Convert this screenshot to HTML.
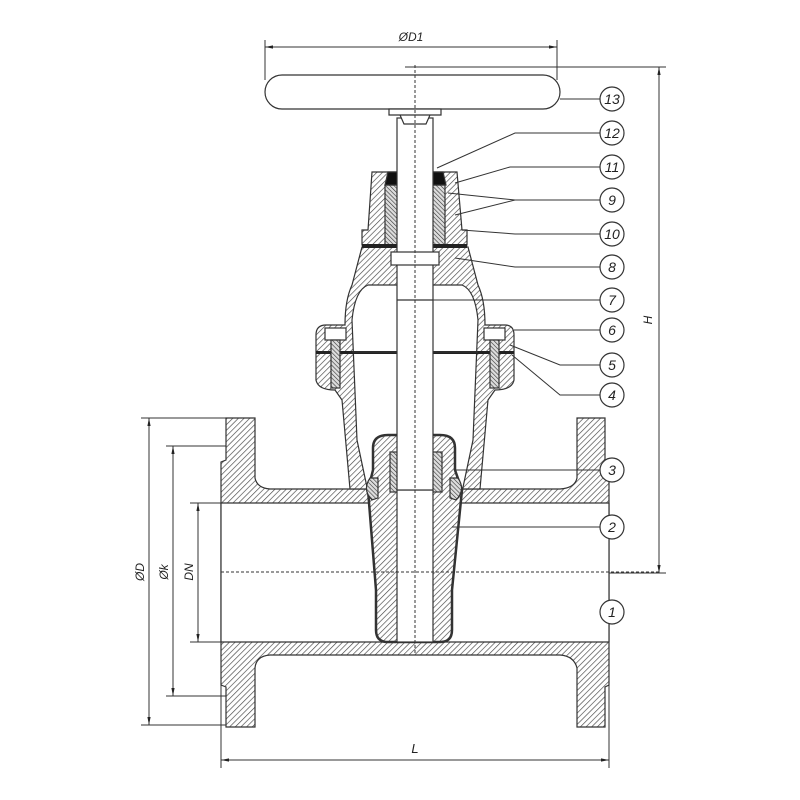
<!DOCTYPE html>
<html><head><meta charset="utf-8"><style>
html,body{margin:0;padding:0;background:#fff}
svg{display:block}
text{font-family:"Liberation Sans",sans-serif;font-style:italic;fill:#222}
</style></head><body>
<svg width="800" height="800" viewBox="0 0 800 800" xmlns="http://www.w3.org/2000/svg">
<defs>
<pattern id="h" width="4" height="4" patternUnits="userSpaceOnUse" patternTransform="rotate(45)">
<rect width="4" height="4" fill="#fff"/><line x1="0" y1="0" x2="0" y2="4" stroke="#444" stroke-width="1.3"/>
</pattern>
<pattern id="h2" width="3" height="3" patternUnits="userSpaceOnUse" patternTransform="rotate(-45)">
<rect width="3" height="3" fill="#ddd"/><line x1="0" y1="0" x2="0" y2="3" stroke="#333" stroke-width="1.2"/>
</pattern>
<marker id="a" viewBox="0 0 10 10" refX="10" refY="5" markerWidth="8" markerHeight="8" orient="auto-start-reverse"><path d="M0,3L10,5L0,7z" fill="#222"/></marker>
</defs>
<g stroke="#333" stroke-width="1.2">
<path fill="url(#h)" d="M226,418H255V478Q257,488 270,489H560Q575,488 577,478V418H605V460L609,462V685L605,687V727H577V668Q574,656 560,655H270Q256,656 255,668V727H226V687L221,685V462L226,460Z"/>
<rect x="221" y="503" width="388" height="139" fill="#fff" stroke="none"/>
<line x1="221" y1="503" x2="609" y2="503"/><line x1="221" y1="642" x2="609" y2="642"/>
<line x1="221" y1="503" x2="221" y2="642"/><line x1="609" y1="503" x2="609" y2="642"/>
<path fill="url(#h)" d="M362,247H468L478,285Q485,300 485,325H505Q514,325 514,335V380Q512,390 495,390L488,400L480,489H350L342,400L335,390Q318,390 316,380V335Q316,325 326,325H345Q345,300 352,285Z"/>
<path fill="#fff" d="M368,285H462Q475,290 478,320L473,440L462,492H368L357,440L352,320Q355,290 368,285Z"/>
<rect x="316" y="351" width="198" height="3" fill="#222" stroke="none"/>
<line x1="352" y1="352" x2="478" y2="352"/>
<g fill="#fff"><rect x="325" y="328" width="21" height="12"/><rect x="331" y="340" width="9" height="48" fill="url(#h2)"/>
<rect x="484" y="328" width="21" height="12"/><rect x="490" y="340" width="9" height="48" fill="url(#h2)"/></g>
<path fill="url(#h)" d="M372,172H457L462,230H467V245H362V230H368Z"/>
<rect x="385" y="185" width="60" height="60" fill="url(#h2)"/>
<path d="M388,172H398V185H385Z M433,172H443L446,185H433Z" fill="#111"/>
<rect x="362" y="244" width="105" height="4" fill="#222" stroke="none"/>
<path fill="url(#h)" stroke-width="2.5" d="M373,448Q373,435 388,435H440Q455,435 455,448V470L462,490L452,590V630Q452,642 440,642H388Q376,642 376,630V590L368,490L373,470Z"/>
<path d="M370,478Q362,490 372,500L378,498V478Z M458,478Q466,490 456,500L450,498V478Z" fill="url(#h2)"/>
<rect x="390" y="452" width="52" height="40" fill="url(#h2)"/>
<rect x="397" y="490" width="36" height="152" fill="#fff"/>
<rect x="397" y="118" width="36" height="372" fill="#fff"/>
<rect x="391" y="252" width="48" height="13" fill="#fff"/>
<line x1="397" y1="300" x2="433" y2="300"/>
<rect x="265" y="75" width="295" height="34" rx="17" fill="#fff"/>
<path d="M389,109H441V115H389Z M400,115H430L426,124H404Z" fill="#fff"/>
</g>
<g stroke="#333" stroke-width="1" stroke-dasharray="3,2" fill="none">
<line x1="415" y1="65" x2="415" y2="655"/><line x1="221" y1="572" x2="660" y2="572"/>
</g>
<g stroke="#333" stroke-width="1" fill="none">
<line x1="265" y1="40" x2="265" y2="80"/><line x1="557" y1="40" x2="557" y2="80"/>
<line x1="265" y1="47" x2="557" y2="47" marker-start="url(#a)" marker-end="url(#a)"/>
<line x1="405" y1="67" x2="666" y2="67"/><line x1="609" y1="573" x2="666" y2="573"/>
<line x1="659" y1="67" x2="659" y2="573" marker-start="url(#a)" marker-end="url(#a)"/>
<line x1="221" y1="685" x2="221" y2="768"/><line x1="609" y1="685" x2="609" y2="768"/>
<line x1="221" y1="760" x2="609" y2="760" marker-start="url(#a)" marker-end="url(#a)"/>
<line x1="141" y1="418" x2="226" y2="418"/><line x1="141" y1="725" x2="226" y2="725"/>
<line x1="149" y1="418" x2="149" y2="725" marker-start="url(#a)" marker-end="url(#a)"/>
<line x1="166" y1="446" x2="226" y2="446"/><line x1="166" y1="696" x2="226" y2="696"/>
<line x1="173" y1="446" x2="173" y2="696" marker-start="url(#a)" marker-end="url(#a)"/>
<line x1="190" y1="503" x2="221" y2="503"/><line x1="190" y1="642" x2="221" y2="642"/>
<line x1="198" y1="503" x2="198" y2="642" marker-start="url(#a)" marker-end="url(#a)"/>
</g>
<text x="411" y="41" font-size="12" text-anchor="middle">ØD1</text>
<text x="415" y="753" font-size="13" text-anchor="middle">L</text>
<text transform="translate(652,320) rotate(-90)" font-size="12" text-anchor="middle">H</text>
<text transform="translate(144,572) rotate(-90)" font-size="12" text-anchor="middle">ØD</text>
<text transform="translate(168,572) rotate(-90)" font-size="12" text-anchor="middle">Øk</text>
<text transform="translate(193,572) rotate(-90)" font-size="12" text-anchor="middle">DN</text>
<g stroke="#333" stroke-width="1" fill="none">
<polyline points="560,99 600,99"/>
<polyline points="437,168 515,133 600,133"/>
<polyline points="455,183 510,167 600,167"/>
<polyline points="448,193 515,200 600,200"/><line x1="455" y1="215" x2="515" y2="200"/>
<polyline points="462,230 515,234 600,234"/>
<polyline points="455,258 515,267 600,267"/>
<polyline points="433,300 600,300"/>
<polyline points="514,330 600,330"/>
<polyline points="510,345 560,365 600,365"/>
<polyline points="512,355 560,395 600,395"/>
<polyline points="455,470 600,470"/>
<polyline points="452,527 600,527"/>
<polyline points="609,612 600,612"/>
</g>
<g stroke="#333" stroke-width="1.2" fill="#fff">
<circle cx="612" cy="99" r="12"/><circle cx="612" cy="133" r="12"/><circle cx="612" cy="167" r="12"/>
<circle cx="612" cy="200" r="12"/><circle cx="612" cy="234" r="12"/><circle cx="612" cy="267" r="12"/>
<circle cx="612" cy="300" r="12"/><circle cx="612" cy="330" r="12"/><circle cx="612" cy="365" r="12"/>
<circle cx="612" cy="395" r="12"/><circle cx="612" cy="470" r="12"/><circle cx="612" cy="527" r="12"/>
<circle cx="612" cy="612" r="12"/>
</g>
<g font-size="14" text-anchor="middle">
<text x="612" y="104">13</text><text x="612" y="138">12</text><text x="612" y="172">11</text>
<text x="612" y="205">9</text><text x="612" y="239">10</text><text x="612" y="272">8</text>
<text x="612" y="305">7</text><text x="612" y="335">6</text><text x="612" y="370">5</text>
<text x="612" y="400">4</text><text x="612" y="475">3</text><text x="612" y="532">2</text>
<text x="612" y="617">1</text>
</g>
</svg>
</body></html>
